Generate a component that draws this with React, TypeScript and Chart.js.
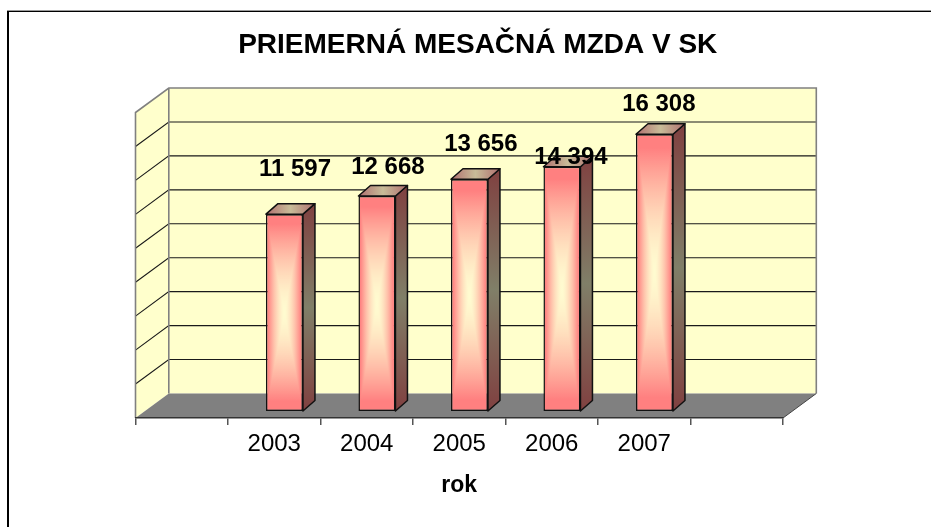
import React, { useEffect, useRef } from "react";
import { Chart, registerables } from "chart.js";

Chart.register(...registerables);

const years = ["", "2003", "2004", "2005", "2006", "2007", ""];
const wages = [null, 11597, 12668, 13656, 14394, 16308, null];
const titleText = "PRIEMERNÁ MESAČNÁ MZDA V SK";
const xAxisTitle = "rok";
const axisMax = 18000;
const axisStep = 2000;

// Label nudges relative to each bar's top centre (hand-placed in the reference)
const labelNudgeX = [0, 10.5, 11, 11.4, 9, 4.4];
const labelRise = [0, 44.5, 29, 35, 9, 30];

const FONT = "'Liberation Sans', Arial, sans-serif";
const WALL = { x: 33.3, y: -24.5 };
const BAR_PLANE = { x: 10.2, y: -7 };
const BAR_DEPTH = { x: 12, y: -10.5 };

function mix(a: number[], b: number[], t: number) {
  return [0, 1, 2].map((i) => Math.round(a[i] + (b[i] - a[i]) * t));
}

function makeBarPattern(w: number, h: number, ctx: CanvasRenderingContext2D, ox: number, oy: number) {
  const c = document.createElement("canvas");
  c.width = Math.max(1, Math.ceil(w));
  c.height = Math.max(1, Math.ceil(h));
  const g = c.getContext("2d")!;
  const img = g.createImageData(c.width, c.height);
  const edge = [255, 128, 128];
  const core = [255, 251, 208];
  for (let y = 0; y < c.height; y++) {
    for (let x = 0; x < c.width; x++) {
      const dx = Math.abs((x + 0.5) / c.width - 0.5) * 2;
      const dy = Math.abs((y + 0.5) / c.height - 0.5) * 2;
      const t = Math.min(1, Math.max(dx, dy) / 0.9);
      const col = mix(core, edge, Math.pow(t, 1.6));
      const i = (y * c.width + x) * 4;
      img.data[i] = col[0];
      img.data[i + 1] = col[1];
      img.data[i + 2] = col[2];
      img.data[i + 3] = 255;
    }
  }
  g.putImageData(img, 0, 0);
  const p = ctx.createPattern(c, "no-repeat")!;
  p.setTransform(new DOMMatrix().translate(ox, oy));
  return p;
}

const scenePlugin = {
  id: "scene",
  beforeDraw(chart: any) {
    const { ctx, chartArea: a, scales } = chart;
    const y = scales.y;
    ctx.save();
    // outer frame, which runs off the right and bottom of the picture
    ctx.fillStyle = "#9a9a9a";
    ctx.fillRect(7, 10, 924, 1);
    ctx.fillStyle = "#000";
    ctx.fillRect(8, 11, 923, 1);
    ctx.fillRect(7, 11, 2, 516);

    // side and back walls
    const L = a.left, R = a.right, T = a.top, B = a.bottom;
    ctx.fillStyle = "#FFFFCC";
    ctx.beginPath();
    ctx.moveTo(L, B);
    ctx.lineTo(L, T);
    ctx.lineTo(L + WALL.x, T + WALL.y);
    ctx.lineTo(R + WALL.x, T + WALL.y);
    ctx.lineTo(R + WALL.x, B + WALL.y);
    ctx.lineTo(L + WALL.x, B + WALL.y);
    ctx.closePath();
    ctx.fill();

    // floor
    ctx.fillStyle = "#808080";
    ctx.beginPath();
    ctx.moveTo(L, B);
    ctx.lineTo(L + WALL.x, B + WALL.y);
    ctx.lineTo(R + WALL.x, B + WALL.y);
    ctx.lineTo(R, B);
    ctx.closePath();
    ctx.fill();

    // gridlines through the y scale
    ctx.strokeStyle = "#1a1a1a";
    ctx.lineWidth = 1.1;
    for (const tick of y.ticks) {
      if (tick.value === 0 || tick.value === axisMax) continue;
      const py = y.getPixelForValue(tick.value);
      ctx.beginPath();
      ctx.moveTo(L, py);
      ctx.lineTo(L + WALL.x, py + WALL.y);
      ctx.lineTo(R + WALL.x, py + WALL.y);
      ctx.stroke();
    }

    // wall outlines
    ctx.strokeStyle = "#808080";
    ctx.lineWidth = 1.6;
    ctx.beginPath();
    ctx.moveTo(L, B);
    ctx.lineTo(L, T);
    ctx.lineTo(L + WALL.x, T + WALL.y);
    ctx.lineTo(R + WALL.x, T + WALL.y);
    ctx.lineTo(R + WALL.x, B + WALL.y);
    ctx.moveTo(L + WALL.x, T + WALL.y);
    ctx.lineTo(L + WALL.x, B + WALL.y);
    ctx.stroke();

    ctx.strokeStyle = "#444";
    ctx.lineWidth = 1;
    ctx.beginPath();
    ctx.moveTo(R, B);
    ctx.lineTo(R + WALL.x, B + WALL.y);
    ctx.stroke();
    ctx.restore();
  },
  beforeDatasetDraw(chart: any) {
    const { ctx } = chart;
    ctx.save();
    ctx.translate(BAR_PLANE.x, BAR_PLANE.y);
    const meta = chart.getDatasetMeta(0);
    meta.data.forEach((bar: any, i: number) => {
      if (wages[i] == null) return;
      const l = bar.x - bar.width / 2;
      const r = bar.x + bar.width / 2;
      const t = bar.y;
      const b = bar.base;
      const D = BAR_DEPTH;
      // right-hand face
      const side = ctx.createLinearGradient(0, t + D.y, 0, b);
      side.addColorStop(0, "#804040");
      side.addColorStop(0.5, "#807F68");
      side.addColorStop(1, "#804040");
      ctx.fillStyle = side;
      ctx.strokeStyle = "#111";
      ctx.lineWidth = 1.5;
      ctx.lineJoin = "round";
      ctx.beginPath();
      ctx.moveTo(r, t);
      ctx.lineTo(r + D.x, t + D.y);
      ctx.lineTo(r + D.x, b + D.y);
      ctx.lineTo(r, b);
      ctx.closePath();
      ctx.fill();
      ctx.stroke();
      // top face
      const top = ctx.createLinearGradient(l, 0, r + D.x, 0);
      top.addColorStop(0, "#B07070");
      top.addColorStop(0.5, "#C8BC98");
      top.addColorStop(1, "#B07070");
      ctx.fillStyle = top;
      ctx.beginPath();
      ctx.moveTo(l, t);
      ctx.lineTo(l + D.x, t + D.y);
      ctx.lineTo(r + D.x, t + D.y);
      ctx.lineTo(r, t);
      ctx.closePath();
      ctx.fill();
      ctx.stroke();
    });
  },
  afterDatasetDraw(chart: any) {
    chart.ctx.restore();
  },
  afterDatasetsDraw(chart: any) {
    const { ctx } = chart;
    const meta = chart.getDatasetMeta(0);
    ctx.save();
    ctx.font = `bold 24px ${FONT}`;
    ctx.fillStyle = "#000";
    ctx.textAlign = "center";
    ctx.textBaseline = "middle";
    meta.data.forEach((bar: any, i: number) => {
      const v = wages[i];
      if (v == null) return;
      const text = String(v).replace(/\B(?=(\d{3})+$)/g, " ");
      ctx.fillText(text, bar.x + BAR_PLANE.x + labelNudgeX[i], bar.y + BAR_PLANE.y - labelRise[i]);
    });
    ctx.restore();
  },
  afterLayout(chart: any) {
    // the reference's title sits right of centre, over the back wall
    if (chart.titleBlock) {
      chart.titleBlock.left += 37;
    }
  },
};

export default function App() {
  const ref = useRef<HTMLCanvasElement>(null);
  useEffect(() => {
    const chart = new Chart(ref.current!, {
      type: "bar",
      plugins: [scenePlugin],
      data: {
        labels: years,
        datasets: [
          {
            data: wages,
            barPercentage: 0.4,
            categoryPercentage: 1,
            borderColor: "#111",
            borderWidth: 1.5,
            borderSkipped: false,
            clip: false,
            backgroundColor: (c: any) => {
              if (c.type !== "data" || c.raw == null) return "#FF8080";
              const { x, y } = c.chart.scales;
              const cx = x.getPixelForValue(c.dataIndex);
              const w = (x.width / years.length) * 0.4;
              const top = y.getPixelForValue(c.raw);
              const base = y.getPixelForValue(0);
              return makeBarPattern(w, base - top, c.chart.ctx, cx - w / 2, top);
            },
          },
        ],
      } as any,
      options: {
        responsive: false,
        animation: false,
        devicePixelRatio: 1,
        layout: { padding: { left: 135.5, right: 148, top: 0, bottom: 0 } },
        plugins: {
          legend: { display: false },
          tooltip: { enabled: false },
          title: {
            display: true,
            text: titleText,
            color: "#000",
            font: { family: FONT, size: 28, weight: "bold" },
            padding: { top: 28, bottom: 112.5 - 28 - 28 * 1.2 },
          },
        },
        scales: {
          x: {
            grid: {
              drawOnChartArea: false,
              drawTicks: true,
              tickLength: 7,
              color: "#555",
              lineWidth: 1.5,
              offset: true,
            },
            border: { color: "#333", width: 1.5 },
            ticks: {
              color: "#000",
              autoSkip: false,
              maxRotation: 0,
              padding: 5,
              font: { family: FONT, size: 24 },
            },
            title: {
              display: true,
              text: xAxisTitle,
              color: "#000",
              font: { family: FONT, size: 23, weight: "bold" },
              padding: { top: 0, bottom: 28 },
            },
            afterFit: (s: any) => {
              s.height = 527 - 418;
            },
          },
          y: {
            display: false,
            min: 0,
            max: axisMax,
            ticks: { stepSize: axisStep },
          },
        },
      } as any,
    });
    return () => chart.destroy();
  }, []);
  return (
    <div style={{ position: "absolute", left: 0, top: 0, width: 931, height: 527 }}>
      <canvas ref={ref} width={931} height={527} style={{ display: "block" }} />
    </div>
  );
}
